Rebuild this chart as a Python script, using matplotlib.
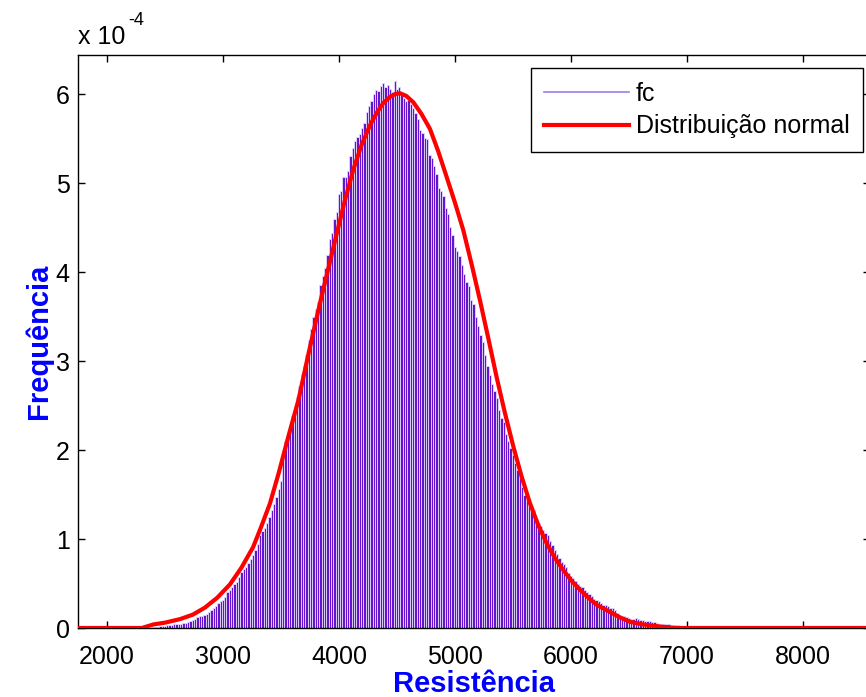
import numpy as np
import matplotlib
matplotlib.use('Agg')
import matplotlib.pyplot as plt
from matplotlib.lines import Line2D

###############################################################################
# Dados (frequência em unidades de 1e-4)

inicio_bins = 2310     # borda esquerda do primeiro bin
largura_bin = 20

freq = [
    0.00, 0.00, 0.00, 0.005, 0.01, 0.015, 0.015, 0.02, 0.02, 0.025,   # 2320-2500
    0.03, 0.03, 0.035, 0.04, 0.045, 0.05, 0.05, 0.055, 0.06, 0.07,    # 2520-2700
    0.08, 0.085, 0.10, 0.12, 0.13, 0.14, 0.15, 0.16, 0.18, 0.20,      # 2720-2900
    0.23, 0.25, 0.28, 0.30, 0.31, 0.35, 0.40, 0.43, 0.46, 0.49,       # 2920-3100
    0.52, 0.57, 0.63, 0.66, 0.69, 0.73, 0.77, 0.82, 0.88, 0.94,       # 3120-3300
    1.05, 1.09, 1.12, 1.18, 1.25, 1.33, 1.39, 1.47, 1.56, 1.65,       # 3320-3500
    1.95, 2.10, 2.17, 2.28, 2.38, 2.48, 2.60, 2.72, 2.85, 2.95,       # 3520-3700
    3.07, 3.24, 3.36, 3.50, 3.59, 3.66, 3.86, 3.96, 4.05, 4.19,       # 3720-3900
    4.37, 4.44, 4.60, 4.67, 4.88, 4.91, 5.07, 5.07, 5.14, 5.30,       # 3920-4100
    5.40, 5.47, 5.52, 5.55, 5.62, 5.68, 5.80, 5.87, 5.92, 6.00,       # 4120-4300
    6.05, 6.03, 6.09, 6.12, 6.08, 6.10, 6.06, 6.02, 6.15, 6.06,       # 4320-4500
    6.08, 6.01, 5.96, 5.92, 5.93, 5.89, 5.84, 5.79, 5.72, 5.60,       # 4520-4700
    5.56, 5.51, 5.50, 5.32, 5.28, 5.19, 5.10, 4.95, 4.91, 4.86,       # 4720-4900
    4.72, 4.65, 4.51, 4.42, 4.28, 4.24, 4.18, 4.08, 3.98, 3.89,       # 4920-5100
    3.84, 3.69, 3.64, 3.50, 3.39, 3.29, 3.22, 3.07, 2.95, 2.84,       # 5120-5300
    2.74, 2.66, 2.59, 2.45, 2.36, 2.31, 2.18, 2.10, 2.02, 1.94,       # 5320-5500
    1.85, 1.78, 1.69, 1.58, 1.50, 1.46, 1.41, 1.37, 1.33, 1.23,       # 5520-5700
    1.18, 1.15, 1.10, 1.07, 1.05, 0.98, 0.93, 0.88, 0.83, 0.79,       # 5720-5900
    0.74, 0.72, 0.68, 0.62, 0.59, 0.56, 0.53, 0.50, 0.47, 0.46,       # 5920-6100
    0.43, 0.40, 0.38, 0.36, 0.33, 0.31, 0.30, 0.28, 0.26, 0.26,       # 6120-6300
    0.25, 0.23, 0.22, 0.20, 0.17, 0.15, 0.13, 0.13, 0.12, 0.11,       # 6320-6500
    0.10, 0.10, 0.11, 0.10, 0.09, 0.09, 0.08, 0.08, 0.075, 0.065,     # 6520-6700
    0.07, 0.06, 0.05, 0.05, 0.05, 0.045, 0.04, 0.035, 0.03, 0.03,     # 6720-6900
    0.03, 0.025, 0.025, 0.02, 0.02, 0.015, 0.01, 0.01, 0.005,         # 6920-7080
]

# curva normal
normal_x = [1750, 2300, 2400, 2500, 2630, 2740, 2845, 2950, 3060, 3160,
            3260, 3330, 3405, 3480, 3563, 3650, 3740, 3836, 3910, 3980,
            4050, 4123, 4195, 4267, 4330, 4382, 4440, 4483, 4526, 4580,
            4640, 4710, 4784, 4855, 4928, 5000, 5072, 5145, 5216, 5290,
            5359, 5430, 5503, 5575, 5647, 5720, 5791, 5860, 5934, 6005,
            6078, 6150, 6222, 6336, 6420, 6509, 6620, 6739, 6900, 8600]
normal_y = [0.0, 0.0, 0.04, 0.06, 0.10, 0.15, 0.23, 0.34, 0.49, 0.68,
            0.91, 1.14, 1.40, 1.74, 2.15, 2.56, 3.10, 3.65, 4.05, 4.43,
            4.80, 5.15, 5.43, 5.65, 5.80, 5.90, 5.97, 6.00, 6.01, 5.98,
            5.91, 5.78, 5.61, 5.36, 5.07, 4.78, 4.47, 4.08, 3.68, 3.24,
            2.82, 2.42, 2.04, 1.70, 1.40, 1.15, 0.95, 0.79, 0.65, 0.53,
            0.43, 0.34, 0.26, 0.18, 0.12, 0.07, 0.04, 0.02, 0.0, 0.0]

xticks = [2000, 3000, 4000, 5000, 6000, 7000, 8000]
yticks = [0, 1, 2, 3, 4, 5, 6]

###############################################################################
# Gráfico

plt.rcParams['font.family'] = ['Liberation Sans', 'DejaVu Sans']

fig = plt.figure(figsize=(8.66, 6.97), dpi=100, facecolor='#FFFFFF')
ax = fig.add_axes([78 / 866, 69 / 697, 792 / 866, 573 / 697])

bordas = inicio_bins + largura_bin * np.arange(len(freq))
ax.bar(bordas, freq, width=largura_bin, align='edge',
       facecolor='#6414cc', edgecolor='#e4d9fb', linewidth=0.6, zorder=2)
ax.plot(normal_x, normal_y, color='#FF0000', linewidth=3, zorder=3,
        solid_joinstyle='round')

ax.set_xlim(1750, 8578)
ax.set_ylim(0, 6.44)
ax.set_xticks(xticks)
ax.set_yticks(yticks)
ax.set_yticklabels([str(t) for t in yticks])

ax.tick_params(direction='in', length=5, width=1, top=True, right=True,
               labelsize=18, colors='black')
ax.tick_params(axis='x', pad=12)
ax.tick_params(axis='y', pad=6)
for s in ax.spines.values():
    s.set_linewidth(1)
    s.set_color('black')

ax.set_xlabel('Resistência', fontsize=21, fontweight='bold', color='#0000FF',
              labelpad=1)
ax.set_ylabel('Frequência', fontsize=21, fontweight='bold', color='#0000FF',
              labelpad=2)

# fator de escala do eixo y, estilo MATLAB
fig.text(78 / 866, 1 - 44 / 697, 'x 10', fontsize=18, ha='left', va='baseline')
fig.text(128 / 866, 1 - 25 / 697, '-4', fontsize=13, ha='left', va='baseline')

handles = [Line2D([], [], color='#9d7ee6', linewidth=1.2),
           Line2D([], [], color='#FF0000', linewidth=3)]
leg = ax.legend(handles, ['fc', 'Distribuição normal'], loc='upper right',
                bbox_to_anchor=(863 / 866, 1 - 68 / 697),
                bbox_transform=fig.transFigure, fontsize=18, fancybox=False,
                framealpha=1, edgecolor='black', handlelength=3.4,
                handletextpad=0.25, borderpad=0.55, labelspacing=0.35,
                borderaxespad=0)
leg.get_frame().set_linewidth(1)

fig.savefig('out.png', dpi=100)
